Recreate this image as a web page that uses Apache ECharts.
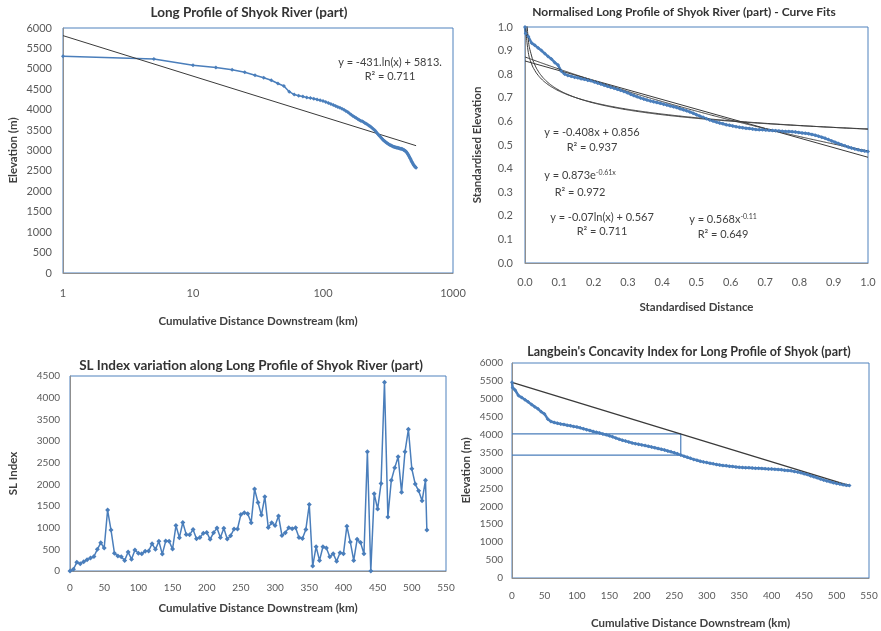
<!DOCTYPE html>
<html>
<head>
<meta charset="utf-8">
<script src="https://cdn.jsdelivr.net/npm/echarts@6/dist/echarts.min.js"></script>
<style>
  html, body { margin: 0; padding: 0; background: #ffffff; }
  #chart { width: 881px; height: 631px; }
</style>
</head>
<body>
<div id="chart"></div>
<script>
// Long profile of the Shyok River (part): distance downstream (km) and bed elevation (m)
const profileKm = [
  0, 1, 5, 10, 15, 20, 25, 30, 35, 40, 45, 50,
  55, 60, 65, 70, 75, 80, 85, 90, 95, 100,
  105, 110, 115, 120, 125, 130, 135, 140, 145, 150,
  155, 160, 165, 170, 175, 180, 185, 190, 195, 200,
  205, 210, 215, 220, 225, 230, 235, 240, 245, 250,
  255, 260, 265, 270, 275, 280, 285, 290, 295, 300,
  305, 310, 315, 320, 325, 330, 335, 340, 345, 350,
  355, 360, 365, 370, 375, 380, 385, 390, 395, 400,
  405, 410, 415, 420, 425, 430, 435, 440, 445, 450,
  455, 460, 465, 470, 475, 480, 485, 490, 495, 500,
  505, 510, 515, 520
];
const profileElev = [
  5460, 5310, 5240, 5090, 5035, 4975, 4915, 4845, 4780, 4720, 4640, 4580,
  4440, 4370, 4340, 4320, 4300, 4285, 4265, 4250, 4230, 4215,
  4190, 4165, 4140, 4115, 4090, 4065, 4045, 4020, 3995, 3970,
  3940, 3905, 3875, 3845, 3820, 3795, 3770, 3750, 3730, 3715,
  3695, 3675, 3655, 3635, 3615, 3595, 3570, 3545, 3520, 3495,
  3465, 3430, 3400, 3370, 3340, 3310, 3285, 3260, 3240, 3220,
  3200, 3185, 3170, 3155, 3140, 3130, 3120, 3110, 3100, 3090,
  3085, 3080, 3075, 3070, 3065, 3060, 3055, 3050, 3045, 3040,
  3035, 3030, 3020, 3010, 3000, 2990, 2975, 2955, 2935, 2910,
  2885, 2855, 2825, 2795, 2765, 2735, 2710, 2685, 2660, 2640,
  2620, 2605, 2590, 2580
];

// Stream-length (SL) gradient index along the same reach
const slKm = [
  0, 5, 10, 15, 20, 25, 30, 35, 40, 45, 50,
  55, 60, 65, 70, 75, 80, 85, 90, 95, 100,
  105, 110, 115, 120, 125, 130, 135, 140, 145, 150,
  155, 160, 165, 170, 175, 180, 185, 190, 195, 200,
  205, 210, 215, 220, 225, 230, 235, 240, 245, 250,
  255, 260, 265, 270, 275, 280, 285, 290, 295, 300,
  305, 310, 315, 320, 325, 330, 335, 340, 345, 350,
  355, 360, 365, 370, 375, 380, 385, 390, 395, 400,
  405, 410, 415, 420, 425, 430, 435, 440, 445, 450,
  455, 460, 465, 470, 475, 480, 485, 490, 495, 500,
  505, 510, 515, 520, 522
];
const slIndex = [
  0, 40, 200, 170, 215, 260, 300, 335, 500, 650, 530,
  1405, 945, 410, 345, 330, 245, 440, 270, 485, 410,
  400, 455, 460, 630, 500, 685, 390, 690, 685, 505,
  1050, 770, 1120, 845, 835, 960, 745, 775, 870, 890,
  730, 885, 990, 775, 985, 740, 815, 970, 970, 1305,
  1345, 1320, 1115, 1890, 1580, 1290, 1715, 1005, 1115, 1050,
  1270, 820, 885, 1000, 975, 1000, 775, 750, 960, 1535,
  115, 560, 245, 560, 530, 330, 400, 225, 420, 400,
  1035, 670, 245, 730, 655, 400, 2750, 0, 1780, 1430,
  2020, 4355, 1245, 2095, 2380, 2635, 1820, 2750, 3270, 2360,
  2005, 1850, 1620, 2095, 945
];

// Fitted trend lines, coefficients as printed on the charts
const logFitRaw = { a: -431, b: 5813 };          // y = a ln(x) + b
const linFitNorm = { a: -0.408, b: 0.856 };      // y = a x + b
const expFitNorm = { a: 0.873, k: -0.61 };       // y = a e^(k x)
const logFitNorm = { a: -0.07, b: 0.567 };       // y = a ln(x) + b
const powFitNorm = { a: 0.568, p: -0.11 };       // y = a x^p

// Axis ticks
const elevTicks = { min: 0, max: 6000, interval: 500 };
const slTicks = { min: 0, max: 4500, interval: 500 };
const distTicks = { min: 0, max: 550, interval: 50 };
const normTicks = { min: 0, max: 1, interval: 0.1 };

const BLUE = '#4A7EBB';
const FRAME = '#4F81BD';
const DARK = '#3a3a3a';
const FONT = 'Lato';

const profile = profileKm.map((k, i) => [k, profileElev[i]]);
const profileLog = profile.filter(p => p[0] > 0);

const maxKm = profileKm[profileKm.length - 1];
const topElev = profileElev[0];
const profileNorm = profile.map(p => [p[0] / maxKm, p[1] / topElev]);
const normX = profileNorm.map(p => p[0]).filter(x => x > 0);

const logFitLine = [1, maxKm].map(x => [x, logFitRaw.a * Math.log(x) + logFitRaw.b]);
const linLine = [0, 1].map(x => [x, linFitNorm.a * x + linFitNorm.b]);
const expLine = profileNorm.map(p => [p[0], expFitNorm.a * Math.exp(expFitNorm.k * p[0])]);
const lnLine = normX.map(x => [x, logFitNorm.a * Math.log(x) + logFitNorm.b]);
const powLine = normX.map(x => [x, powFitNorm.a * Math.pow(x, powFitNorm.p)]);

const slData = slKm.map((k, i) => [k, slIndex[i]]);

// Langbein concavity construction: chord between the profile ends and
// the vertical gap between chord and profile at mid-distance
const lastElev = profileElev[profileElev.length - 1];
const midKm = maxKm / 2;
const chord = [[0, topElev], [maxKm, lastElev]];
const chordMid = (topElev + lastElev) / 2;
const profileMid = profileElev[profileKm.indexOf(midKm)];
const concavityGuide = [[0, chordMid], [midKm, chordMid], [midKm, profileMid], [0, profileMid]];

const plain = v => String(v);
const fixed1 = v => v.toFixed(1);

function labelStyle(size, margin, formatter) {
  return { fontFamily: FONT, fontSize: size, color: '#595959', margin, formatter: formatter || plain };
}

function baseAxis(extra) {
  return Object.assign({
    nameLocation: 'middle',
    nameTextStyle: { fontFamily: FONT, fontWeight: 'bold', fontSize: 11.5, color: '#404040' },
    axisLine: { show: true, onZero: false, lineStyle: { color: '#8f8f8f', width: 1 } },
    axisTick: { show: false },
    splitLine: { show: false }
  }, extra);
}

function gridBox(left, top, width, height) {
  return { left, top, width, height, show: true, borderColor: FRAME, borderWidth: 1, backgroundColor: 'transparent' };
}

function titleAt(text, x, y, size) {
  return {
    text, left: x, top: y, textAlign: 'center', padding: 0,
    textStyle: { fontFamily: FONT, fontWeight: 'bold', fontSize: size, color: '#333333' }
  };
}

const eqStyle = { fontFamily: FONT, fontSize: 11, fill: '#404040' };
function eqText(text, x, y) {
  return {
    type: 'text', x, y,
    style: Object.assign({
      text, align: 'center', verticalAlign: 'middle',
      rich: { sup: { fontFamily: FONT, fontSize: 7, verticalAlign: 'top', fill: '#404040' } }
    }, eqStyle)
  };
}

const option = {
  animation: false,
  backgroundColor: '#ffffff',
  title: [
    titleAt('Long Profile of Shyok River (part)', 249, 6, 13.5),
    titleAt('Normalised Long Profile of Shyok River (part) - Curve Fits', 684, 6, 12),
    titleAt('SL Index variation along Long Profile of Shyok River (part)', 251, 359, 13.5),
    titleAt("Langbein's Concavity Index for Long Profile of Shyok (part)", 689, 345, 12.5)
  ],
  grid: [
    gridBox(63, 28, 390, 245),
    gridBox(525, 27, 343, 236),
    gridBox(70, 376, 376, 195),
    gridBox(512, 363, 357, 215)
  ],
  xAxis: [
    baseAxis({ gridIndex: 0, type: 'log', logBase: 10, min: 1, max: 1000,
      name: 'Cumulative Distance Downstream (km)', nameGap: 42,
      axisLabel: labelStyle(11, 15) }),
    baseAxis({ gridIndex: 1, type: 'value', min: normTicks.min, max: normTicks.max, interval: normTicks.interval,
      name: 'Standardised Distance', nameGap: 38,
      axisLabel: labelStyle(11, 14, fixed1) }),
    baseAxis({ gridIndex: 2, type: 'value', min: distTicks.min, max: distTicks.max, interval: distTicks.interval,
      name: 'Cumulative Distance Downstream (km)', nameGap: 31,
      axisLabel: labelStyle(10, 12) }),
    baseAxis({ gridIndex: 3, type: 'value', min: distTicks.min, max: distTicks.max, interval: distTicks.interval,
      name: 'Cumulative Distance Downstream (km)', nameGap: 39,
      axisLabel: labelStyle(10, 13) })
  ],
  yAxis: [
    baseAxis({ gridIndex: 0, type: 'value', min: elevTicks.min, max: elevTicks.max, interval: elevTicks.interval,
      name: 'Elevation (m)', nameGap: 44,
      axisLabel: labelStyle(11, 11) }),
    baseAxis({ gridIndex: 1, type: 'value', min: normTicks.min, max: normTicks.max, interval: normTicks.interval,
      name: 'Standardised Elevation', nameGap: 42,
      axisLabel: labelStyle(11, 12, fixed1) }),
    baseAxis({ gridIndex: 2, type: 'value', min: slTicks.min, max: slTicks.max, interval: slTicks.interval,
      name: 'SL Index', nameGap: 51,
      axisLabel: labelStyle(10, 10) }),
    baseAxis({ gridIndex: 3, type: 'value', min: elevTicks.min, max: elevTicks.max, interval: elevTicks.interval,
      name: 'Elevation (m)', nameGap: 40,
      axisLabel: labelStyle(10, 9) })
  ],
  series: [
    // Long profile on a logarithmic distance axis with its log fit
    { type: 'line', xAxisIndex: 0, yAxisIndex: 0, data: profileLog,
      lineStyle: { color: BLUE, width: 1.5 }, itemStyle: { color: BLUE },
      symbol: 'diamond', symbolSize: 4, showAllSymbol: true },
    { type: 'line', xAxisIndex: 0, yAxisIndex: 0, data: logFitLine,
      lineStyle: { color: DARK, width: 1 }, symbol: 'none' },

    // Normalised profile with four curve fits
    { type: 'line', xAxisIndex: 1, yAxisIndex: 1, data: profileNorm,
      lineStyle: { color: BLUE, width: 2.5 }, itemStyle: { color: BLUE },
      symbol: 'diamond', symbolSize: 4, showAllSymbol: true },
    { type: 'line', xAxisIndex: 1, yAxisIndex: 1, data: linLine,
      lineStyle: { color: DARK, width: 1 }, symbol: 'none' },
    { type: 'line', xAxisIndex: 1, yAxisIndex: 1, data: expLine, smooth: true,
      lineStyle: { color: DARK, width: 1 }, symbol: 'none' },
    { type: 'line', xAxisIndex: 1, yAxisIndex: 1, data: lnLine, smooth: true,
      lineStyle: { color: DARK, width: 1 }, symbol: 'none' },
    { type: 'line', xAxisIndex: 1, yAxisIndex: 1, data: powLine, smooth: true,
      lineStyle: { color: DARK, width: 1 }, symbol: 'none' },

    // SL index
    { type: 'line', xAxisIndex: 2, yAxisIndex: 2, data: slData,
      lineStyle: { color: BLUE, width: 1.5 }, itemStyle: { color: BLUE },
      symbol: 'diamond', symbolSize: 5, showAllSymbol: true },

    // Langbein concavity
    { type: 'line', xAxisIndex: 3, yAxisIndex: 3, data: profile,
      lineStyle: { color: BLUE, width: 2.5 }, itemStyle: { color: BLUE },
      symbol: 'diamond', symbolSize: 4, showAllSymbol: true },
    { type: 'line', xAxisIndex: 3, yAxisIndex: 3, data: concavityGuide,
      lineStyle: { color: BLUE, width: 1.2 }, symbol: 'none' },
    { type: 'line', xAxisIndex: 3, yAxisIndex: 3, data: chord,
      lineStyle: { color: DARK, width: 1.3 }, symbol: 'none' }
  ],
  graphic: [
    eqText('y = -431.ln(x) + 5813.', 390, 62),
    eqText('R² = 0.711', 390, 76),
    eqText('y = -0.408x + 0.856', 592, 132),
    eqText('R² = 0.937', 592, 147),
    eqText('y = 0.873e{sup|-0.61x}', 580, 175),
    eqText('R² = 0.972', 580, 192),
    eqText('y = -0.07ln(x) + 0.567', 602, 217),
    eqText('R² = 0.711', 602, 231),
    eqText('y = 0.568x{sup|-0.11}', 723, 219),
    eqText('R² = 0.649', 723, 234)
  ]
};

const chart = echarts.init(document.getElementById('chart'), null, { renderer: 'canvas' });
chart.setOption(option);
</script>
</body>
</html>
